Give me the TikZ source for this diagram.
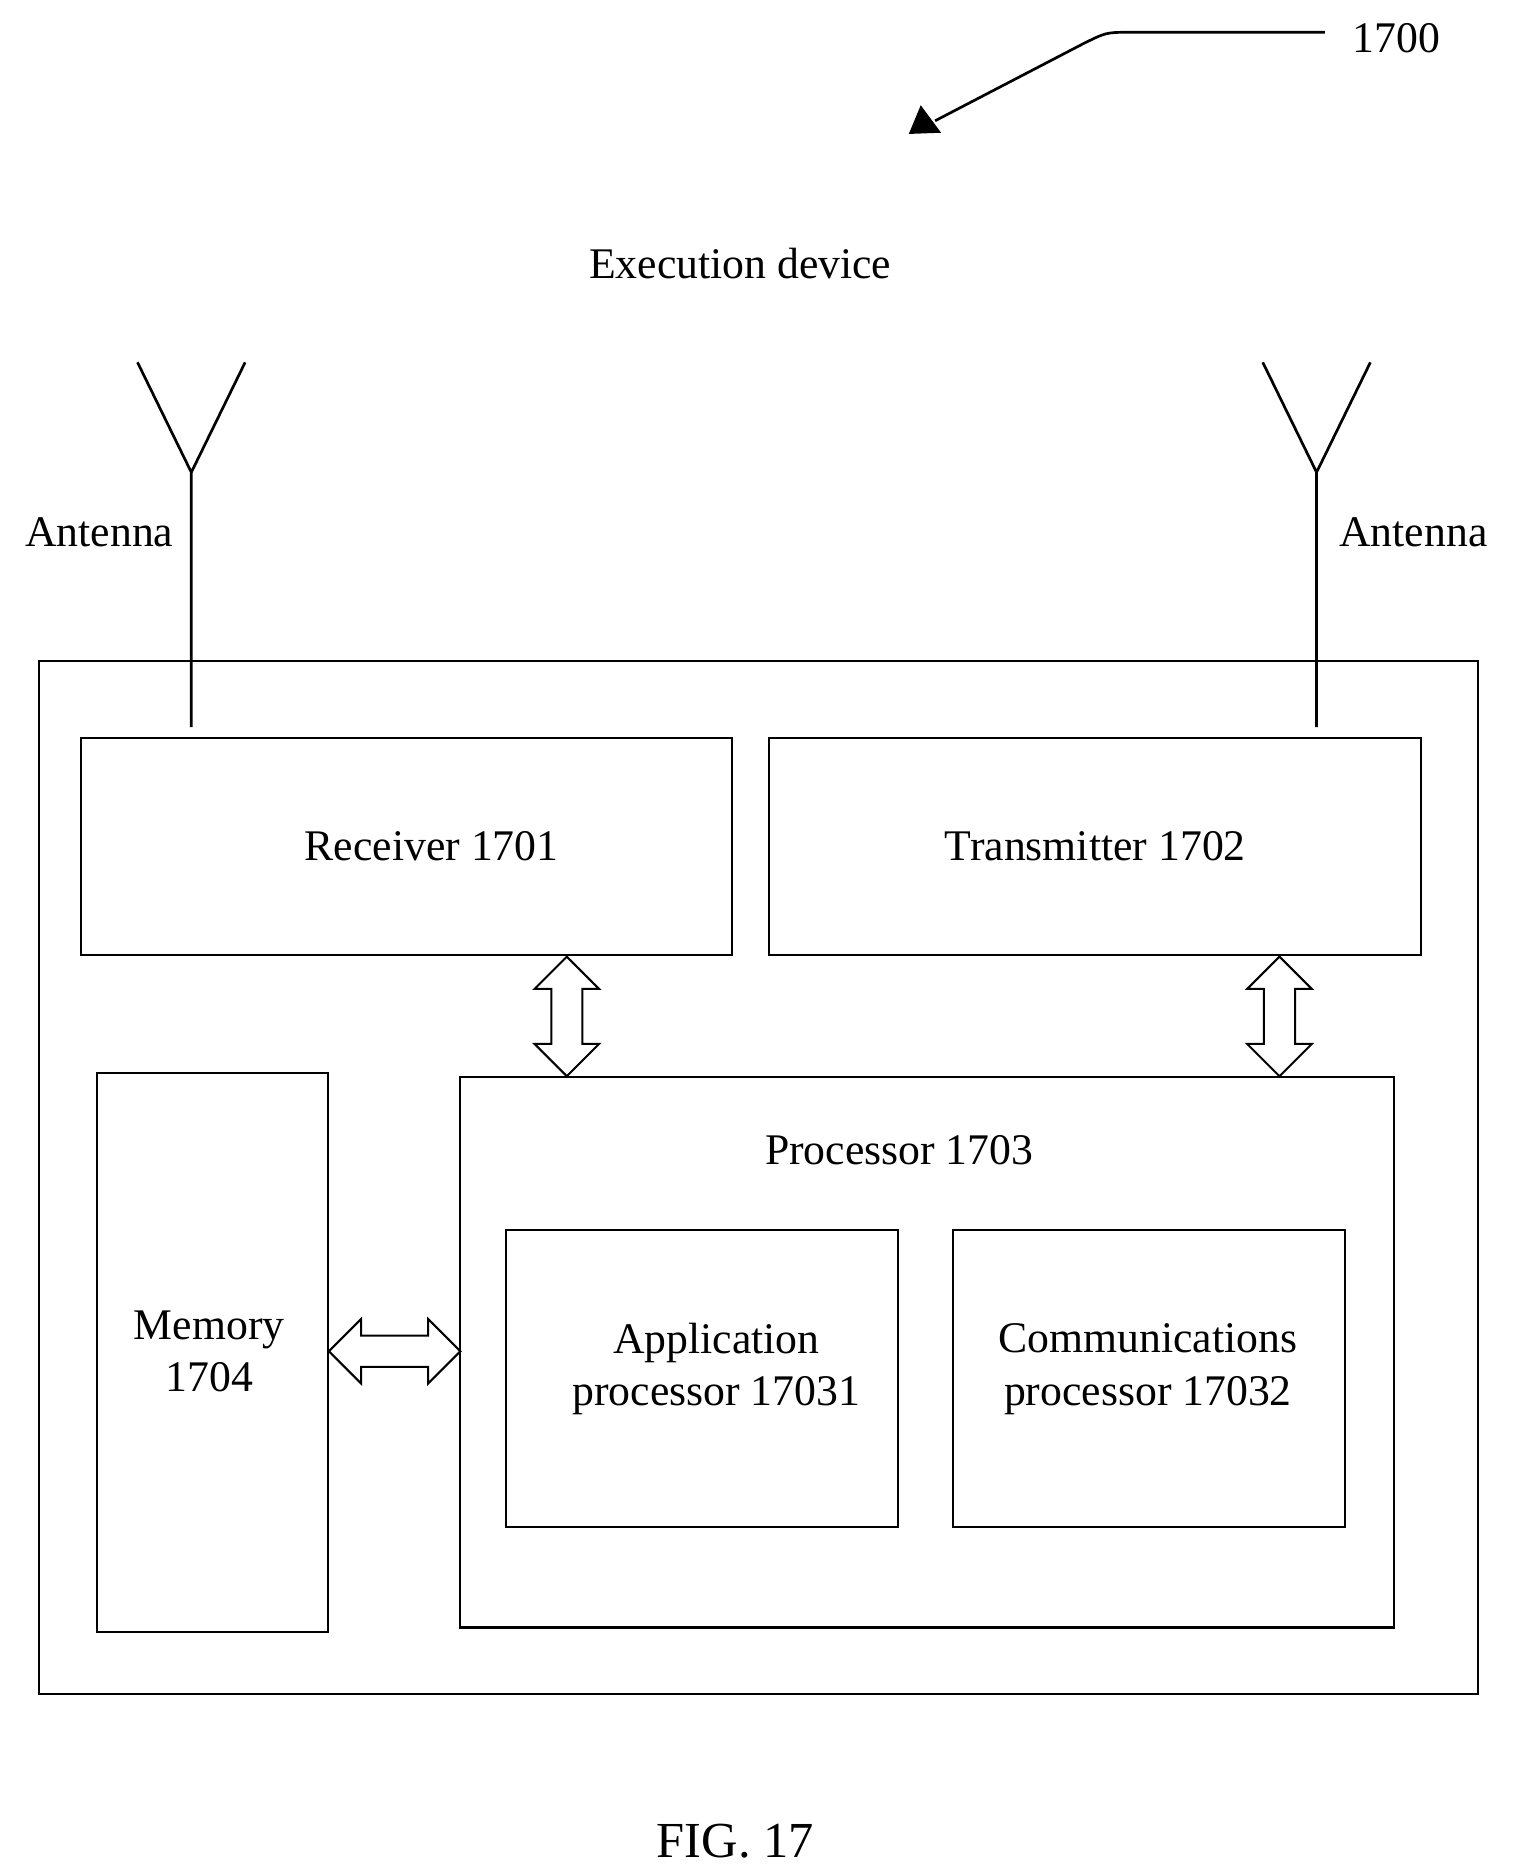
\documentclass[tikz,border=0pt]{standalone}
\usepackage{fontspec}
\setmainfont{Liberation Serif}
\usetikzlibrary{positioning}
\tikzset{
  blk/.style={draw, line width=1.2pt, inner sep=0pt},
  lbl/.style={font=\fontsize{26}{31}\selectfont, align=center},
}
% hollow double arrow between two points (vertical or horizontal)
\newcommand\hollowvert[3]{% x, y1, y2
  \draw[line width=1.2pt] (#1,#2) -- (#1+27,#2+27) -- (#1+13,#2+27) -- (#1+13,#3-27) -- (#1+27,#3-27)
    -- (#1,#3) -- (#1-27,#3-27) -- (#1-13,#3-27) -- (#1-13,#2+27) -- (#1-27,#2+27) -- cycle;}
\newcommand\hollowhorz[3]{% y, x1, x2
  \draw[line width=1.2pt] (#2,#1) -- (#2+27,#1-27) -- (#2+27,#1-13) -- (#3-27,#1-13) -- (#3-27,#1-27)
    -- (#3,#1) -- (#3-27,#1+27) -- (#3-27,#1+13) -- (#2+27,#1+13) -- (#2+27,#1+27) -- cycle;}
\begin{document}
\begin{tikzpicture}[x=0.025cm, y=-0.025cm]
\useasboundingbox (0,0) rectangle (1265,1568);
% boxes
\draw[blk] (33,553) rectangle (1236,1417);
\draw[blk] (68,617) rectangle (612,799);
\draw[blk] (643,617) rectangle (1188,799);
\draw[blk] (81,897) rectangle (274,1365);
\draw[blk] (385,901) rectangle (1166,1361);
\draw[blk] (423,1029) rectangle (751,1277);
\draw[blk] (797,1029) rectangle (1125,1277);
\node[lbl] (rx) at (361,708) {Receiver 1701};
\node[lbl] (tx) at (916,708) {Transmitter 1702};
\node[lbl] (mem) at (175,1130) {Memory\\1704};
\node[lbl] (proc) at (752,962) {Processor 1703};
\node[lbl] (app) at (599,1145) {Application\\processor 17031};
\node[lbl] (comm) at (960,1145) {Communications\\processor 17032};
% antennas
\foreach \ax/\lx in {160/83, 1101/1182}{
  \draw[line width=1.6pt] (\ax,608) -- (\ax,395) -- (\ax-45,303) (\ax,395) -- (\ax+45,303);
  \node[lbl] at (\lx,445) {Antenna};
}
% double arrows
\hollowvert{474}{800}{900}
\hollowvert{1070}{800}{900}
\hollowhorz{1130}{275}{385}
% titles
\node[lbl] (title) at (619,220) {Execution device};
\node[lbl] (ref) at (1168,32) {1700};
\node[font=\fontsize{30}{36}\selectfont] (fig) at (615,1540) {FIG. 17};
\coordinate (tail) at (1108,27);
\coordinate (tip) at (760,112);
\draw[line width=1.6pt] (tail) -- (945,27) .. controls (925,27) .. (905,37) -- (782,101);
\fill (tip) -- (770,88) -- (787,111) -- cycle;
\end{tikzpicture}
\end{document}
